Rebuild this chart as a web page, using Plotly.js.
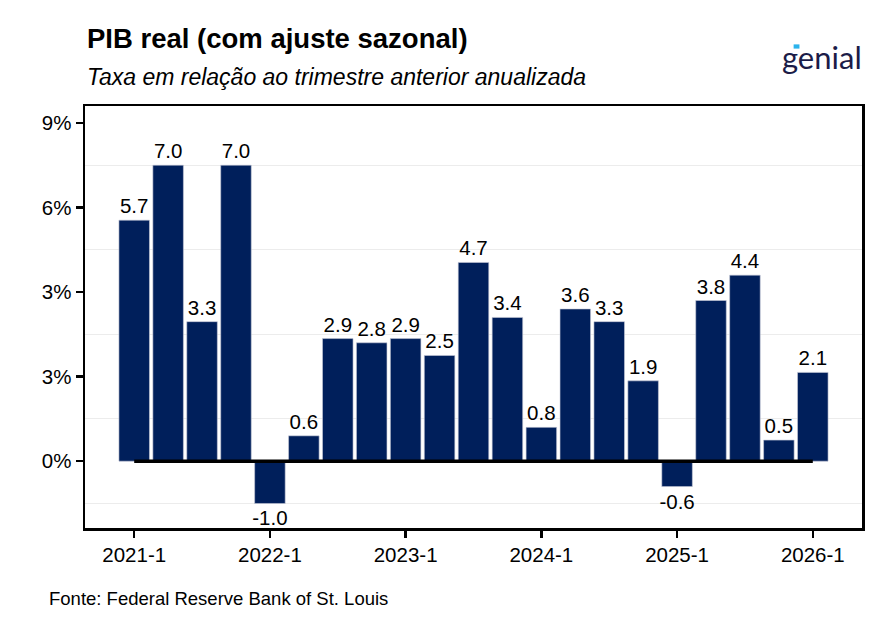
<!DOCTYPE html>
<html>
<head>
<meta charset="utf-8">
<script src="https://cdn.plot.ly/plotly-3.0.1.min.js"></script>
<style>
  html, body { margin: 0; padding: 0; background: #fff; }
  #chart { width: 890px; height: 635px; }
</style>
</head>
<body>
<div id="chart"></div>
<script>
// quarters and annualised real GDP growth (%)
const quarters = [
  '2021-1', '2021-2', '2021-3', '2021-4',
  '2022-1', '2022-2', '2022-3', '2022-4',
  '2023-1', '2023-2', '2023-3', '2023-4',
  '2024-1', '2024-2', '2024-3', '2024-4',
  '2025-1', '2025-2', '2025-3', '2025-4',
  '2026-1',
];
const growth = [
  5.7, 7.0, 3.3, 7.0,
  -1.0, 0.6, 2.9, 2.8,
  2.9, 2.5, 4.7, 3.4,
  0.8, 3.6, 3.3, 1.9,
  -0.6, 3.8, 4.4, 0.5,
  2.1,
];
const xTicks = ['2021-1', '2022-1', '2023-1', '2024-1', '2025-1', '2026-1'];
const yTickVals = [0, 2, 4, 6, 8];
const yTickText = ['0%', '3%', '3%', '6%', '9%'];

const navy = '#001f5b';
const font = 'Liberation Sans, Arial, sans-serif';

const bars = {
  type: 'bar',
  x: quarters,
  y: growth,
  text: growth.map((v) => v.toFixed(1)),
  textposition: 'outside',
  textfont: { family: font, size: 20.5, color: '#000' },
  constraintext: 'none',
  cliponaxis: false,
  marker: { color: navy, line: { color: '#c8cbd8', width: 0.6 } },
  hoverinfo: 'skip',
};

// zero reference line from first to last quarter
const zeroLine = {
  type: 'scatter',
  mode: 'lines',
  x: [quarters[0], quarters[quarters.length - 1]],
  y: [0, 0],
  line: { color: '#000', width: 3.5 },
  hoverinfo: 'skip',
};

const layout = {
  width: 890,
  height: 635,
  margin: { l: 85, r: 28, t: 106, b: 107 },
  paper_bgcolor: '#fff',
  plot_bgcolor: '#fff',
  showlegend: false,
  bargap: 0.1,
  font: { family: font, color: '#000' },
  xaxis: {
    type: 'category',
    range: [-1.45, 21.45],
    tickvals: xTicks,
    ticktext: xTicks,
    ticks: 'outside',
    ticklen: 7,
    tickwidth: 2.5,
    tickcolor: '#000',
    tickfont: { family: font, size: 20.5, color: '#000' },
    showgrid: false,
    showline: true,
    linecolor: '#000',
    linewidth: 2.5,
    mirror: true,
    zeroline: false,
  },
  yaxis: {
    range: [-1.58, 8.4],
    tickvals: yTickVals,
    ticktext: yTickText,
    ticks: 'outside',
    ticklen: 7,
    tickwidth: 2.5,
    tickcolor: '#000',
    tickfont: { family: font, size: 20.5, color: '#000' },
    showgrid: false,
    showline: true,
    linecolor: '#000',
    linewidth: 2.5,
    mirror: true,
    zeroline: false,
    minor: {
      tick0: 1,
      dtick: 2,
      showgrid: true,
      gridcolor: '#ececec',
      gridwidth: 1,
      ticks: '',
    },
  },
  annotations: [
    {
      xref: 'paper', yref: 'paper', x: 0, y: 1.16,
      xanchor: 'left', yanchor: 'middle', showarrow: false,
      text: '<b>PIB real (com ajuste sazonal)</b>',
      font: { family: font, size: 27.5, color: '#000' },
    },
    {
      xref: 'paper', yref: 'paper', x: 0, y: 1.068,
      xanchor: 'left', yanchor: 'middle', showarrow: false,
      text: '<i>Taxa em relação ao trimestre anterior anualizada</i>',
      font: { family: font, size: 23, color: '#000' },
    },
    {
      xref: 'paper', yref: 'paper', x: -0.049, y: -0.166,
      xanchor: 'left', yanchor: 'middle', showarrow: false,
      text: 'Fonte: Federal Reserve Bank of St. Louis',
      font: { family: font, size: 18.5, color: '#000' },
    },
    {
      xref: 'paper', yref: 'paper', x: 0.948, y: 1.115,
      xanchor: 'center', yanchor: 'middle', showarrow: false,
      text: 'genial',
      font: { family: 'Lato, Inter, sans-serif', size: 31, color: '#1b1c48' },
    },
  ],
  shapes: [
    {
      type: 'rect', xref: 'paper', yref: 'paper',
      x0: 0.912, x1: 0.9195, y0: 1.136, y1: 1.146,
      fillcolor: '#2bb3ec', line: { width: 0 },
    },
  ],
};

Plotly.newPlot('chart', [bars, zeroLine], layout, { displayModeBar: false, staticPlot: true });
</script>
</body>
</html>
